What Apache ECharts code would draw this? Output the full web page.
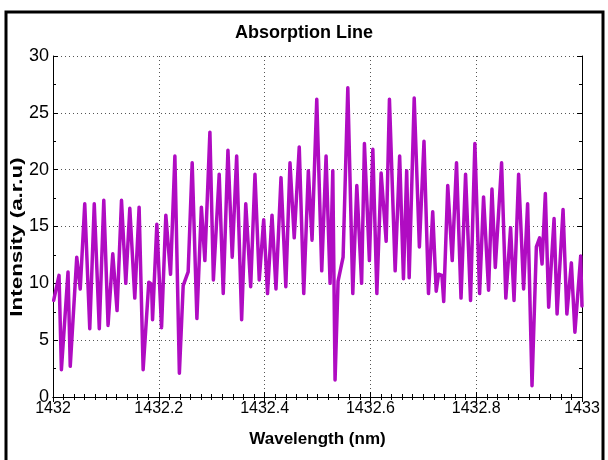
<!DOCTYPE html>
<html>
<head>
<meta charset="utf-8">
<script src="https://cdn.jsdelivr.net/npm/echarts@6/dist/echarts.min.js"></script>
<style>
  html, body { margin: 0; padding: 0; background: #fff; }
  #chart { width: 608px; height: 460px; }
</style>
</head>
<body>
<div id="chart"></div>
<script>
// wavelength (nm) of each turning point of the trace
var wavelength = [
  1432.0013, 1432.0114, 1432.0159, 1432.0284, 1432.0326, 1432.0449, 1432.0515, 1432.0600,
  1432.0695, 1432.0780, 1432.0875, 1432.0960, 1432.1041, 1432.1130, 1432.1211, 1432.1295,
  1432.1376, 1432.1452, 1432.1546, 1432.1628, 1432.1704, 1432.1811, 1432.1863, 1432.1882,
  1432.1963, 1432.2052, 1432.2133, 1432.2222, 1432.2304, 1432.2389, 1432.2461, 1432.2555,
  1432.2631, 1432.2720, 1432.2805, 1432.2871, 1432.2966, 1432.3032, 1432.3142, 1432.3218,
  1432.3307, 1432.3388, 1432.3472, 1432.3566, 1432.3644, 1432.3737, 1432.3818, 1432.3899,
  1432.3983, 1432.4055, 1432.4140, 1432.4215, 1432.4310, 1432.4401, 1432.4480, 1432.4560,
  1432.4655, 1432.4740, 1432.4827, 1432.4897, 1432.4986, 1432.5080, 1432.5162, 1432.5238,
  1432.5289, 1432.5332, 1432.5389, 1432.5484, 1432.5573, 1432.5667, 1432.5743, 1432.5834,
  1432.5887, 1432.5981, 1432.6046, 1432.6122, 1432.6203, 1432.6298, 1432.6360, 1432.6468,
  1432.6553, 1432.6625, 1432.6686, 1432.6733, 1432.6828, 1432.6926, 1432.7013, 1432.7098,
  1432.7178, 1432.7244, 1432.7288, 1432.7352, 1432.7386, 1432.7462, 1432.7547, 1432.7628,
  1432.7713, 1432.7799, 1432.7893, 1432.7975, 1432.8064, 1432.8139, 1432.8234, 1432.8298,
  1432.8361, 1432.8480, 1432.8560, 1432.8650, 1432.8715, 1432.8802, 1432.8896, 1432.8972,
  1432.9055, 1432.9137, 1432.9199, 1432.9245, 1432.9307, 1432.9370, 1432.9472, 1432.9529,
  1432.9642, 1432.9714, 1432.9799, 1432.9866, 1432.9975, 1433.0000
]

// intensity (a.r.u) read at those points
var intensity = [
  8.5, 10.7, 2.4, 11.0, 2.7, 12.3, 9.5, 17.0,
  6.0, 17.0, 6.0, 17.3, 6.3, 12.6, 7.6, 17.3,
  10.0, 16.6, 8.7, 16.7, 2.4, 10.1, 9.9, 6.8,
  15.2, 6.1, 16.0, 10.8, 21.2, 2.1, 9.8, 11.0,
  20.6, 6.9, 16.7, 12.0, 23.3, 10.3, 19.6, 9.1,
  21.7, 12.3, 21.2, 6.8, 17.0, 9.7, 19.6, 10.3,
  15.6, 9.1, 16.0, 9.5, 19.3, 9.7, 20.6, 14.0,
  22.0, 9.1, 19.9, 13.8, 26.2, 11.1, 21.2, 10.0,
  19.9, 1.5, 10.2, 12.3, 27.2, 9.1, 18.6, 10.0,
  22.3, 12.0, 21.8, 9.1, 19.7, 13.7, 26.2, 11.1,
  21.2, 10.4, 19.9, 10.5, 26.3, 13.2, 22.5, 9.1,
  16.3, 9.3, 10.8, 10.7, 8.4, 18.6, 12.0, 20.6,
  8.7, 19.6, 8.5, 22.3, 9.1, 17.6, 9.4, 18.3,
  11.4, 20.6, 8.7, 14.9, 8.5, 19.6, 9.5, 17.0,
  1.0, 13.2, 14.0, 11.7, 17.9, 7.9, 15.7, 7.3,
  16.5, 7.3, 11.8, 5.7, 12.4, 8.0
]

var xMin = 1432, xMax = 1433, xStep = 0.2
var yMin = 0, yMax = 30, yStep = 5

var fontMain = '"Liberation Sans", Arial, sans-serif'

var points = wavelength.map(function (w, i) { return [w, intensity[i]] })

var chart = echarts.init(document.getElementById('chart'))

var gridLine = { show: true, lineStyle: { color: '#555', type: [1, 3], width: 1 } }
var boxLine = { show: true, lineStyle: { color: '#000', width: 1 } }
var tick = { show: true, inside: true, length: 5, lineStyle: { color: '#000' } }

chart.setOption({
  animation: false,
  title: {
    text: 'Absorption Line',
    left: 'center',
    top: 19,
    textStyle: { fontFamily: fontMain, fontSize: 18, fontWeight: 'bold', color: '#000' }
  },
  grid: { left: 53, right: 26, top: 56, bottom: 63, outerBoundsMode: 'none', containLabel: false },
  graphic: [{
    type: 'rect',
    shape: { x: 6, y: 12, width: 597, height: 470 },
    style: { fill: 'none', stroke: '#000', lineWidth: 3 },
    silent: true
  }, {
    // y axis title, stretched along its length like the original
    type: 'text',
    x: 18,
    y: 237,
    rotation: Math.PI / 2,
    scaleX: 1.4,
    style: {
      text: 'Intensity (a.r.u)',
      font: 'bold 16px ' + fontMain,
      fill: '#000',
      align: 'center',
      verticalAlign: 'middle'
    },
    silent: true
  }],
  xAxis: [{
    type: 'value',
    min: xMin,
    max: xMax,
    interval: xStep,
    name: 'Wavelength (nm)',
    nameLocation: 'middle',
    nameGap: 34,
    nameTextStyle: { fontFamily: fontMain, fontSize: 17, fontWeight: 'bold', color: '#000' },
    axisLine: boxLine,
    axisTick: tick,
    minorTick: { show: true, splitNumber: 10, length: 3, lineStyle: { color: '#000' } },
    axisLabel: {
      fontFamily: fontMain, fontSize: 16, color: '#000', margin: 4,
      formatter: function (v) { return String(Math.round(v * 10) / 10) }
    },
    splitLine: gridLine
  }, {
    type: 'value',
    position: 'top',
    min: xMin,
    max: xMax,
    interval: xStep,
    axisLine: boxLine,
    axisTick: tick,
    minorTick: { show: true, splitNumber: 10, length: 3, lineStyle: { color: '#000' } },
    axisLabel: { show: false },
    splitLine: { show: false }
  }],
  yAxis: [{
    type: 'value',
    min: yMin,
    max: yMax,
    interval: yStep,
    axisLine: boxLine,
    axisTick: tick,
    minorTick: { show: true, splitNumber: 2, length: 3, lineStyle: { color: '#000' } },
    axisLabel: { fontFamily: fontMain, fontSize: 18, color: '#000', margin: 4 },
    splitLine: gridLine
  }, {
    type: 'value',
    position: 'right',
    min: yMin,
    max: yMax,
    interval: yStep,
    axisLine: boxLine,
    axisTick: tick,
    minorTick: { show: true, splitNumber: 2, length: 3, lineStyle: { color: '#000' } },
    axisLabel: { show: false },
    splitLine: { show: false }
  }],
  series: [{
    type: 'line',
    data: points,
    showSymbol: false,
    lineStyle: { color: '#b00cc2', width: 3.5, join: 'round', cap: 'round' },
    itemStyle: { color: '#b00cc2' }
  }]
})
</script>
</body>
</html>
